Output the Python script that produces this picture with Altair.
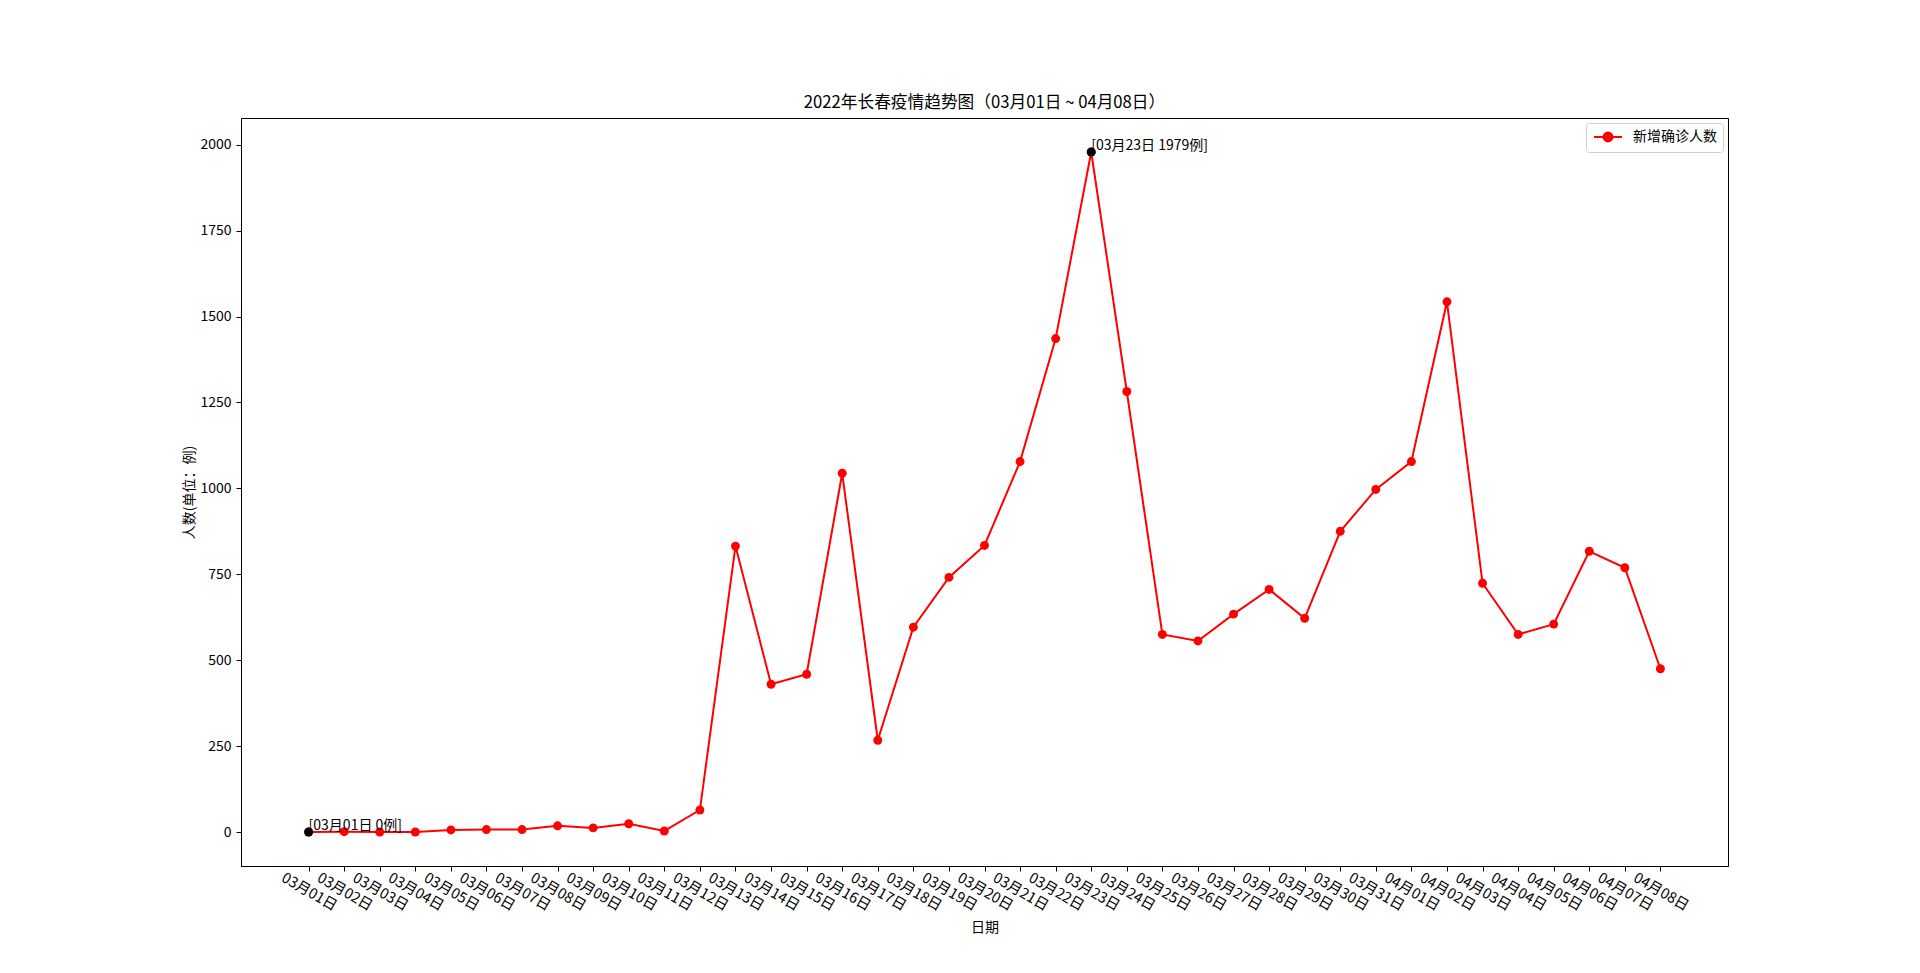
import json
import altair as alt
import pandas as pd

dates = [
    "03月01日", "03月02日", "03月03日", "03月04日", "03月05日", "03月06日", "03月07日",
    "03月08日", "03月09日", "03月10日", "03月11日", "03月12日", "03月13日", "03月14日",
    "03月15日", "03月16日", "03月17日", "03月18日", "03月19日", "03月20日", "03月21日",
    "03月22日", "03月23日", "03月24日", "03月25日", "03月26日", "03月27日", "03月28日",
    "03月29日", "03月30日", "03月31日", "04月01日", "04月02日", "04月03日", "04月04日",
    "04月05日", "04月06日", "04月07日", "04月08日",
]
counts = [
    0, 1, 0, 0, 6, 7, 7, 18, 12, 24, 3, 64, 832, 430,
    459, 1044, 267, 596, 741, 834, 1078, 1436, 1979, 1282, 575,
    556, 634, 706, 622, 875, 997, 1078, 1543, 724, 575, 605, 817, 769, 475,
]
series_name = "新增确诊人数"
y_ticks = [0, 250, 500, 750, 1000, 1250, 1500, 1750, 2000]

FONT = "Noto Sans CJK SC"

idx = list(range(len(dates)))
df = pd.DataFrame({"idx": idx, "date": dates, "count": counts, "series": series_name})
imax = counts.index(max(counts))
imin = counts.index(min(counts))
hl = df.iloc[[imin, imax]].copy()
hl["label"] = [f"[{d} {v}例]" for d, v in zip(hl["date"], hl["count"])]

# matplotlib-style 5% margins
ylo = min(counts) - 0.05 * (max(counts) - min(counts))
yhi = max(counts) + 0.05 * (max(counts) - min(counts))
xlo = 0 - 0.05 * (len(dates) - 1)
xhi = (len(dates) - 1) + 0.05 * (len(dates) - 1)

label_expr = json.dumps(dates, ensure_ascii=False) + "[datum.value]"

x_enc = alt.X(
    "idx:Q",
    scale=alt.Scale(domain=[xlo, xhi], nice=False, zero=False),
    axis=alt.Axis(
        title="日期",
        values=idx,
        tickCount=len(dates) + 5,
        labelExpr=label_expr,
        labelAngle=30,
        labelAlign="center",
        labelBaseline="middle",
        labelPadding=21,
        labelOverlap=False,
        labelFlush=False,
        tickSize=5,
        labelFontSize=14.5,
        titleFontSize=14,
        titleFontWeight="normal",
        titlePadding=8,
        grid=False,
        domainColor="black",
        tickColor="black",
        labelColor="black",
        titleColor="black",
        labelFont=FONT,
        titleFont=FONT,
    ),
)
y_enc = alt.Y(
    "count:Q",
    scale=alt.Scale(domain=[ylo, yhi], nice=False, zero=False),
    axis=alt.Axis(
        title="人数(单位：例)",
        values=y_ticks,
        format="d",
        tickSize=5,
        labelPadding=5,
        labelFontSize=14,
        titleFontSize=14,
        titleFontWeight="normal",
        titlePadding=3,
        grid=False,
        domainColor="black",
        tickColor="black",
        labelColor="black",
        titleColor="black",
        labelFont=FONT,
        titleFont=FONT,
    ),
)

legend_path = "M-2,0H2M-0.64,0A0.64,0.64,0,1,1,0.64,0A0.64,0.64,0,1,1,-0.64,0Z"

line = alt.Chart(df).mark_line(strokeWidth=2, color="red").encode(
    x=x_enc,
    y=y_enc,
    color=alt.Color(
        "series:N",
        scale=alt.Scale(domain=[series_name], range=["red"]),
        legend=alt.Legend(
            title=None,
            orient="top-right",
            offset=5,
            padding=6,
            symbolType=legend_path,
            symbolSize=196,
            symbolOffset=8,
            symbolFillColor="red",
            symbolStrokeColor="red",
            symbolStrokeWidth=2,
            labelFontSize=14,
            labelFont=FONT,
            labelColor="black",
            labelOffset=17,
            strokeColor="#d0d0d0",
            fillColor="white",
            cornerRadius=3,
        ),
    ),
)

points = alt.Chart(df).mark_circle(size=80, color="red", opacity=1).encode(
    x="idx:Q",
    y="count:Q",
)

hl_points = alt.Chart(hl).mark_circle(size=80, color="black", opacity=1).encode(
    x="idx:Q",
    y="count:Q",
)

hl_text = alt.Chart(hl).mark_text(
    align="left", baseline="alphabetic", fontSize=14, font=FONT, color="black", dy=-2
).encode(
    x="idx:Q",
    y="count:Q",
    text="label:N",
)

chart = (
    alt.layer(line, points, hl_points, hl_text)
    .properties(
        width=1487,
        height=748,
        title=alt.TitleParams(
            "2022年长春疫情趋势图（03月01日 ~ 04月08日）",
            fontSize=16.7,
            fontWeight="normal",
            font=FONT,
            color="black",
            offset=6,
        ),
        autosize=alt.AutoSizeParams(type="none"),
        padding={"left": 233, "top": 110, "right": 170, "bottom": 80},
    )
    .configure(font=FONT, background="white")
    .configure_view(stroke="black", strokeWidth=1)
)

chart.save("out.html", embed_options={"renderer": "svg", "actions": False})
